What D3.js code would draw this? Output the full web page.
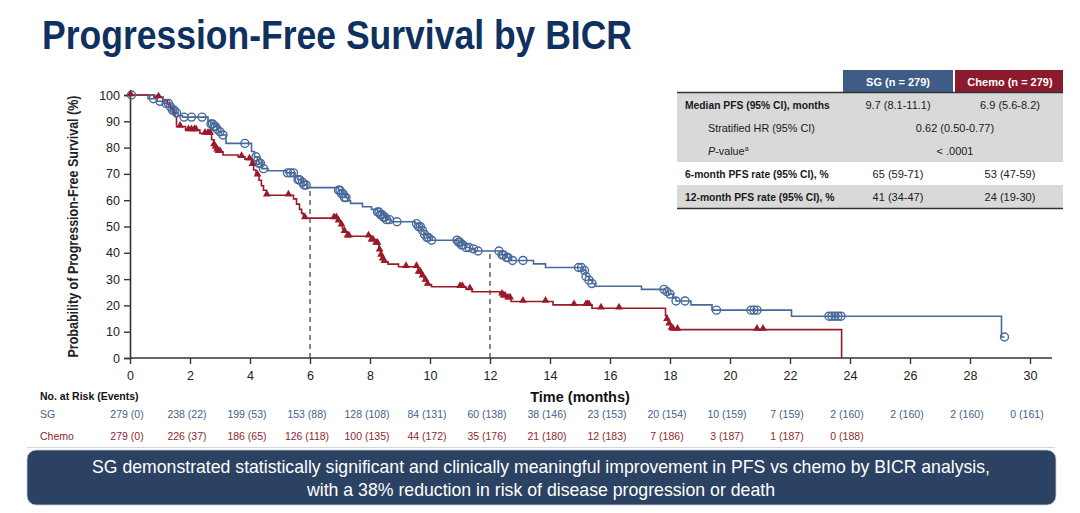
<!DOCTYPE html>
<html>
<head>
<meta charset="utf-8">
<script src="https://cdn.jsdelivr.net/npm/d3@7/dist/d3.min.js"></script>
<style>
  html, body { margin: 0; padding: 0; background: #fff; }
  svg { display: block; }
  text { font-family: 'Liberation Sans Narrow', 'Arial Narrow', 'Liberation Sans', Arial, sans-serif; }
</style>
</head>
<body>
<svg id="chart" width="1080" height="513"></svg>
<script>
// KM steps: [time (months), PFS % after the drop]
let sgSteps = [
  [0, 100], [0.6, 98.6], [0.9, 97.6], [1.15, 96.8], [1.3, 95.5], [1.4, 94.2], [1.5, 93.2],
  [1.6, 92.2], [1.75, 91.6], [2.6, 90], [2.7, 89], [2.8, 88], [2.9, 87], [2.95, 86],
  [3.05, 84.8], [3.2, 81.6], [4.05, 78.5], [4.15, 76.5], [4.25, 75], [4.3, 74], [4.4, 72],
  [4.6, 71.2], [5.2, 70.4], [5.5, 69.2], [5.6, 67.8], [5.7, 66.8], [5.8, 65.8], [5.9, 64.8],
  [6.95, 63.8], [7.05, 62.5], [7.15, 61], [7.25, 59.8], [7.35, 58.8], [7.75, 57.5],
  [8.05, 56.5], [8.25, 55.5], [8.35, 54.5], [8.45, 53.5], [8.55, 52.6], [8.7, 51.8],
  [9.5, 51.1], [9.62, 49.9], [9.7, 48.5], [9.8, 47], [9.9, 45.8], [10.0, 44.8],
  [10.95, 44], [11.05, 43], [11.2, 42], [11.35, 41.5], [11.5, 40.7], [12.4, 39.2],
  [12.55, 38.2], [12.7, 37.1], [13.45, 35.8], [13.85, 34.4], [15.1, 33.3], [15.2, 31],
  [15.3, 29.6], [15.4, 28.3], [15.5, 27.3], [17.05, 26.1], [17.85, 25.2], [17.95, 24.3],
  [18.1, 22.8], [18.2, 21.7], [18.7, 20.2], [19.4, 18.2], [22.05, 15.9], [29.05, 8.0]
];
let sgEnd = 29.15;
let sgCensors = [
  0.05, 0.78, 1.0, 1.2, 1.28, 1.35, 1.42, 1.48, 1.55, 1.8, 2.05, 2.4,
  2.7, 2.75, 2.8, 2.85, 2.9, 3.0, 3.1, 3.83, 4.2, 4.25, 4.3, 4.35, 4.45,
  5.25, 5.35, 5.45, 5.6, 5.65, 5.75, 5.8, 5.87,
  6.95, 7.0, 7.05, 7.1, 7.15, 7.2, 8.25, 8.3, 8.35, 8.4, 8.45, 8.5, 8.55, 8.65, 8.9,
  9.55, 9.62, 9.68, 9.75, 9.82, 9.9, 9.95, 10.05,
  10.9, 10.95, 11.0, 11.05, 11.1, 11.2, 11.3, 11.45, 11.6,
  12.3, 12.4, 12.45, 12.55, 12.6, 12.75, 13.1,
  14.95, 15.05, 15.15, 15.2, 15.3, 15.4, 17.8, 17.9, 18.0, 18.2, 18.5,
  19.55, 20.7, 20.8, 20.9, 23.3, 23.4, 23.5, 23.6, 23.7, 29.15
];

let chemoSteps = [
  [0, 100], [0.8, 99.2], [1.1, 97.8], [1.25, 96.5], [1.35, 95], [1.45, 93], [1.5, 91.8],
  [1.55, 88], [1.85, 86.7], [2.33, 85.4], [2.72, 83], [2.8, 81], [2.85, 80], [2.9, 79],
  [2.95, 78.4], [3.1, 77.2], [3.6, 76.5], [3.83, 75.6], [4.05, 73.5], [4.12, 71.5],
  [4.2, 69.5], [4.3, 67.6], [4.38, 65.5], [4.45, 63.8], [4.55, 61.9], [5.45, 60.5],
  [5.55, 58.5], [5.65, 56.5], [5.72, 55], [5.78, 53.2], [6.92, 52], [7.0, 50.5],
  [7.08, 49.2], [7.15, 48], [7.25, 46.3], [8.05, 44.8], [8.2, 43.5], [8.3, 41], [8.35, 39],
  [8.4, 37.5], [8.45, 36.6], [8.6, 35.7], [8.95, 34.7], [9.6, 32.5], [9.7, 31.1],
  [9.8, 29.5], [9.9, 27.9], [10.05, 27.1], [11.2, 26.2], [11.4, 25.2], [12.33, 24.2],
  [12.45, 23.5], [12.6, 22.7], [12.7, 21.5], [14.1, 20.2], [15.4, 18.9], [17.85, 16.1],
  [17.9, 14.5], [17.95, 12.8], [18.05, 11.2], [18.1, 10.8], [23.72, 0]
];
let chemoEnd = 23.72;
let chemoCensors = [
  0.02, 0.95, 1.67, 1.95, 2.05, 2.15, 2.2, 2.5, 2.6, 2.67, 2.8, 2.85, 2.9, 2.95, 3.0,
  3.72, 3.98, 4.08, 4.25, 4.56, 5.28, 5.83, 6.8, 6.88, 6.95, 7.05, 7.15, 7.25, 7.3, 7.95,
  8.05, 8.1, 8.2, 8.25, 8.32, 8.37, 8.42, 8.48, 9.2, 9.55, 9.62, 9.68, 9.75, 9.85, 9.92,
  11.0, 11.08, 11.33, 12.4, 12.45, 12.5, 12.6, 12.67, 13.1, 13.85, 14.8, 15.2, 15.25,
  15.3, 15.7, 16.3, 17.9, 17.97, 18.05, 18.1, 18.25, 20.9, 21.1
];

let landmarkTimes = [6, 12];
let xTicks = d3.range(0, 31, 2);
let yTicks = d3.range(0, 101, 10);

let riskTimes = d3.range(0, 31, 2);
let sgRisk = ['279 (0)', '238 (22)', '199 (53)', '153 (88)', '128 (108)', '84 (131)', '60 (138)',
  '38 (146)', '23 (153)', '20 (154)', '10 (159)', '7 (159)', '2 (160)', '2 (160)', '2 (160)', '0 (161)'];
let chemoRisk = ['279 (0)', '226 (37)', '186 (65)', '126 (118)', '100 (135)', '44 (172)', '35 (176)',
  '21 (180)', '12 (183)', '7 (186)', '3 (187)', '1 (187)', '0 (188)'];

let tableHeaders = ['SG (n = 279)', 'Chemo (n = 279)'];
let tableRows = [
  { label: 'Median PFS (95% CI), months', sg: '9.7 (8.1-11.1)', chemo: '6.9 (5.6-8.2)', bold: true },
  { label: 'Stratified HR (95% CI)', both: '0.62 (0.50-0.77)', indent: true },
  { label: 'P-value', both: '< .0001', indent: true, italicP: true },
  { label: '6-month PFS rate (95% CI), %', sg: '65 (59-71)', chemo: '53 (47-59)', bold: true },
  { label: '12-month PFS rate (95% CI), %', sg: '41 (34-47)', chemo: '24 (19-30)', bold: true }
];

let BLUE = '#47699a';
let RED = '#9a1a2b';
let NAVY = '#0f315f';
let FONT = "'Liberation Sans Narrow', 'Arial Narrow', 'Liberation Sans', Arial, sans-serif";

let svg = d3.select('#chart');

// Title
svg.append('text')
  .attr('x', 42).attr('y', 49)
  .attr('font-size', 41).attr('font-weight', 'bold')
  .attr('fill', NAVY)
  .attr('textLength', 590).attr('lengthAdjust', 'spacingAndGlyphs')
  .text('Progression-Free Survival by BICR');

// Scales
let x = d3.scaleLinear().domain([0, 30]).range([130, 1030]);
let y = d3.scaleLinear().domain([0, 100]).range([358, 95]);

function levelAt (steps, t) {
  let v = steps[0][1];
  for (let s of steps) {
    if (s[0] <= t) v = s[1];
  }
  return v;
}

// Axes
let xAxis = svg.append('g')
  .attr('transform', 'translate(0,' + y(0) + ')')
  .call(d3.axisBottom(x).tickValues(xTicks).tickSize(6).tickPadding(7).tickFormat(d3.format('d')));
xAxis.select('.domain').remove();
xAxis.append('line')
  .attr('x1', x(0)).attr('x2', x.range()[1] + 22)
  .attr('stroke', '#333').attr('stroke-width', 1.6);
xAxis.selectAll('.tick line').attr('stroke', '#333').attr('stroke-width', 1.4);
xAxis.selectAll('.tick text').attr('font-size', 12.5).attr('fill', '#222').style('font-family', FONT);

let yAxis = svg.append('g')
  .attr('transform', 'translate(' + x(0) + ',0)')
  .call(d3.axisLeft(y).tickValues(yTicks).tickSize(6).tickPadding(4));
yAxis.select('.domain').attr('stroke', '#333').attr('stroke-width', 1.6);
yAxis.selectAll('.tick line').attr('stroke', '#333').attr('stroke-width', 1.4);
yAxis.selectAll('.tick text').attr('font-size', 12.5).attr('fill', '#222').style('font-family', FONT);

svg.append('text')
  .attr('transform', 'translate(78,' + y(50) + ') rotate(-90)')
  .attr('text-anchor', 'middle')
  .attr('font-size', 14).attr('font-weight', 'bold').attr('fill', '#222')
  .attr('textLength', 262).attr('lengthAdjust', 'spacingAndGlyphs')
  .text('Probability of Progression-Free Survival (%)');

svg.append('text')
  .attr('x', 580).attr('y', 402)
  .attr('text-anchor', 'middle')
  .attr('font-size', 14.5).attr('font-weight', 'bold').attr('fill', '#111')
  .text('Time (months)');

// Landmark dashed lines
svg.selectAll('line.landmark')
  .data(landmarkTimes)
  .enter().append('line')
  .attr('class', 'landmark')
  .attr('x1', d => x(d)).attr('x2', d => x(d))
  .attr('y1', y(0)).attr('y2', d => y(levelAt(sgSteps, d)))
  .attr('stroke', '#555').attr('stroke-width', 1.4)
  .attr('stroke-dasharray', '5,4');

// Curves
let stepLine = d3.line()
  .x(d => x(d[0])).y(d => y(d[1]))
  .curve(d3.curveStepAfter);

let sgPts = sgSteps.concat([[sgEnd, levelAt(sgSteps, sgEnd)]]);
let chemoPts = chemoSteps.concat([[chemoEnd, levelAt(chemoSteps, chemoEnd)]]);

svg.append('path')
  .attr('d', stepLine(sgPts))
  .attr('fill', 'none').attr('stroke', BLUE).attr('stroke-width', 1.6);
svg.append('path')
  .attr('d', stepLine(chemoPts))
  .attr('fill', 'none').attr('stroke', RED).attr('stroke-width', 1.6);

// Censor marks
svg.append('g').selectAll('circle')
  .data(sgCensors)
  .enter().append('circle')
  .attr('cx', d => x(d))
  .attr('cy', d => y(levelAt(sgSteps, d)))
  .attr('r', 4)
  .attr('fill', 'none').attr('stroke', BLUE).attr('stroke-width', 1.4);

let tri = d3.symbol().type(d3.symbolTriangle).size(26);
svg.append('g').selectAll('path')
  .data(chemoCensors)
  .enter().append('path')
  .attr('d', tri)
  .attr('transform', d => 'translate(' + x(d) + ',' + (y(levelAt(chemoSteps, d)) - 1) + ')')
  .attr('fill', RED);

// Number at risk
svg.append('text')
  .attr('x', 40).attr('y', 400)
  .attr('font-size', 10.5).attr('font-weight', 'bold').attr('fill', '#111')
  .text('No. at Risk (Events)');

let riskRows = [
  { name: 'SG', values: sgRisk, color: '#3f5f8c', yPos: 418 },
  { name: 'Chemo', values: chemoRisk, color: '#8e1f2f', yPos: 440 }
];
riskRows.forEach(row => {
  svg.append('text')
    .attr('x', 40).attr('y', row.yPos)
    .attr('font-size', 10.5).attr('fill', row.color)
    .text(row.name);
  svg.append('g').selectAll('text')
    .data(row.values)
    .enter().append('text')
    .attr('x', (d, i) => x(riskTimes[i]) - 3)
    .attr('y', row.yPos)
    .attr('text-anchor', 'middle')
    .attr('font-size', 10.5).attr('fill', row.color)
    .text(d => d);
});

svg.append('line')
  .attr('x1', 27).attr('x2', 1055).attr('y1', 447.5).attr('y2', 447.5)
  .attr('stroke', '#d6d6d6').attr('stroke-width', 1);

// Summary table
let tbl = svg.append('g');
let tLeft = 677, tRight = 1063;
let colSG = 898, colChemo = 1010, colBoth = 955;
let rowTop = [93, 116, 139, 162, 185];
let rowH = 23;

tbl.append('rect').attr('x', 843).attr('y', 70).attr('width', 110).attr('height', 22).attr('fill', '#3e5c86');
tbl.append('rect').attr('x', 955).attr('y', 70).attr('width', 108).attr('height', 22).attr('fill', '#8b1a2c');
tbl.selectAll('text.hdr')
  .data(tableHeaders)
  .enter().append('text')
  .attr('class', 'hdr')
  .attr('x', (d, i) => i === 0 ? colSG : colChemo)
  .attr('y', 85.5)
  .attr('text-anchor', 'middle')
  .attr('font-size', 11).attr('font-weight', 'bold').attr('fill', '#fff')
  .text(d => d);

tableRows.forEach((r, i) => {
  let shaded = i !== 3;
  if (shaded) {
    tbl.append('rect')
      .attr('x', tLeft).attr('y', rowTop[i])
      .attr('width', tRight - tLeft).attr('height', rowH)
      .attr('fill', '#d9d9d9');
  }
  let ty = rowTop[i] + 15.5;
  let lbl = tbl.append('text')
    .attr('x', r.indent ? 708 : 685).attr('y', ty)
    .attr('font-size', r.bold ? 10.3 : 10.8).attr('fill', '#1a1a1a')
    .attr('font-weight', r.bold ? 'bold' : 'normal');
  if (r.italicP) {
    lbl.append('tspan').attr('font-style', 'italic').text('P');
    lbl.append('tspan').text('-value');
    lbl.append('tspan').attr('font-size', 7).attr('dy', -4).text('a');
  } else {
    lbl.text(r.label);
  }
  if (r.both) {
    tbl.append('text').attr('x', colBoth).attr('y', ty).attr('text-anchor', 'middle')
      .attr('font-size', 11).attr('fill', '#1a1a1a').text(r.both);
  } else {
    tbl.append('text').attr('x', colSG).attr('y', ty).attr('text-anchor', 'middle')
      .attr('font-size', 11).attr('fill', '#1a1a1a').text(r.sg);
    tbl.append('text').attr('x', colChemo).attr('y', ty).attr('text-anchor', 'middle')
      .attr('font-size', 11).attr('fill', '#1a1a1a').text(r.chemo);
  }
});
tbl.append('line').attr('x1', tLeft).attr('x2', tRight).attr('y1', 92.5).attr('y2', 92.5)
  .attr('stroke', '#333').attr('stroke-width', 1.5);
tbl.append('line').attr('x1', tLeft).attr('x2', tRight).attr('y1', 208.5).attr('y2', 208.5)
  .attr('stroke', '#333').attr('stroke-width', 1.5);

// Takeaway banner
svg.append('rect')
  .attr('x', 27).attr('y', 450).attr('width', 1029).attr('height', 55)
  .attr('rx', 9).attr('ry', 9)
  .attr('fill', '#2c4262').attr('stroke', '#c9ced6').attr('stroke-width', 0.8);
let bannerLines = [
  'SG demonstrated statistically significant and clinically meaningful improvement in PFS vs chemo by BICR analysis,',
  'with a 38% reduction in risk of disease progression or death'
];
let bannerWidths = [898, 468];
svg.selectAll('text.banner')
  .data(bannerLines)
  .enter().append('text')
  .attr('class', 'banner')
  .attr('x', 541).attr('y', (d, i) => 473 + i * 22.5)
  .attr('text-anchor', 'middle')
  .attr('font-size', 18.5).attr('fill', '#fff')
  .attr('textLength', (d, i) => bannerWidths[i]).attr('lengthAdjust', 'spacingAndGlyphs')
  .text(d => d);
</script>
</body>
</html>
